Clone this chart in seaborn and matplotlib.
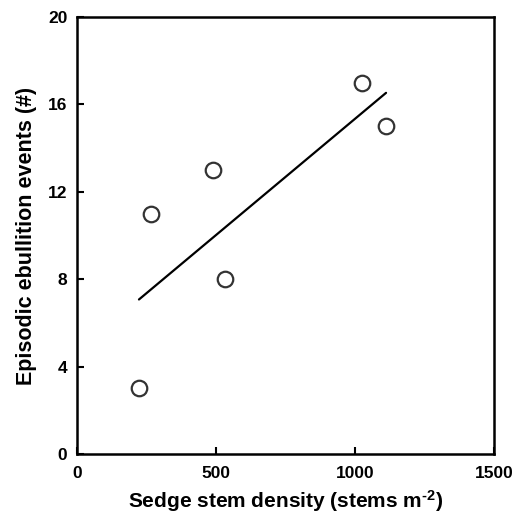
import matplotlib
matplotlib.use("Agg")
import matplotlib.pyplot as plt
import seaborn as sns
import pandas as pd

# Data
stem_density = [223, 265, 490, 534, 1024, 1112]
ebullition_events = [3, 11, 13, 8, 17, 15]
x_ticks = [0, 500, 1000, 1500]
y_ticks = [0, 4, 8, 12, 16, 20]

sns.set_theme(style="white")
plt.rcParams['font.family'] = ['Liberation Sans', 'DejaVu Sans']
plt.rcParams['font.weight'] = 'bold'
plt.rcParams['text.color'] = 'black'
plt.rcParams['axes.labelcolor'] = 'black'
plt.rcParams['xtick.color'] = 'black'
plt.rcParams['ytick.color'] = 'black'
plt.rcParams['mathtext.fontset'] = 'custom'
plt.rcParams['mathtext.rm'] = 'Liberation Sans:bold'
plt.rcParams['mathtext.bf'] = 'Liberation Sans:bold'
plt.rcParams['mathtext.default'] = 'bf'

df = pd.DataFrame({"x": stem_density, "y": ebullition_events})

fig = plt.figure(figsize=(5.15, 5.18), dpi=100)
ax = fig.add_axes([0.1495, 0.1236, 0.8095, 0.8436])

sns.regplot(data=df, x="x", y="y", ax=ax, ci=None, truncate=True,
            scatter_kws=dict(s=125, facecolors="white", edgecolors="black",
                             linewidths=1.6, zorder=3),
            line_kws=dict(color="black", linewidth=1.6), color="black")

ax.set_xlim(0, 1500)
ax.set_ylim(0, 20)
ax.set_xticks(x_ticks)
ax.set_yticks(y_ticks)
ax.set_xticklabels([str(t) for t in x_ticks], fontsize=12.5, fontweight='bold',
                   color='black')
ax.set_yticklabels([str(t) for t in y_ticks], fontsize=12.5, fontweight='bold',
                   color='black')
ax.tick_params(axis='both', direction='in', length=5, width=1.5,
               colors='black', bottom=True, left=True, top=False, right=False)
ax.tick_params(axis='x', pad=8.5)
ax.tick_params(axis='y', pad=7)
for s in ax.spines.values():
    s.set_visible(True)
    s.set_color('black')
    s.set_linewidth(1.8)

ax.set_xlabel(r"Sedge stem density (stems m$^{\text{-2}}$)", fontsize=15,
              fontweight='bold', labelpad=5, color='black')
ax.set_ylabel("Episodic ebullition events (#)", fontsize=15.5,
              fontweight='bold', labelpad=8, color='black')
ax.grid(False)

fig.savefig("out.png", dpi=100)
